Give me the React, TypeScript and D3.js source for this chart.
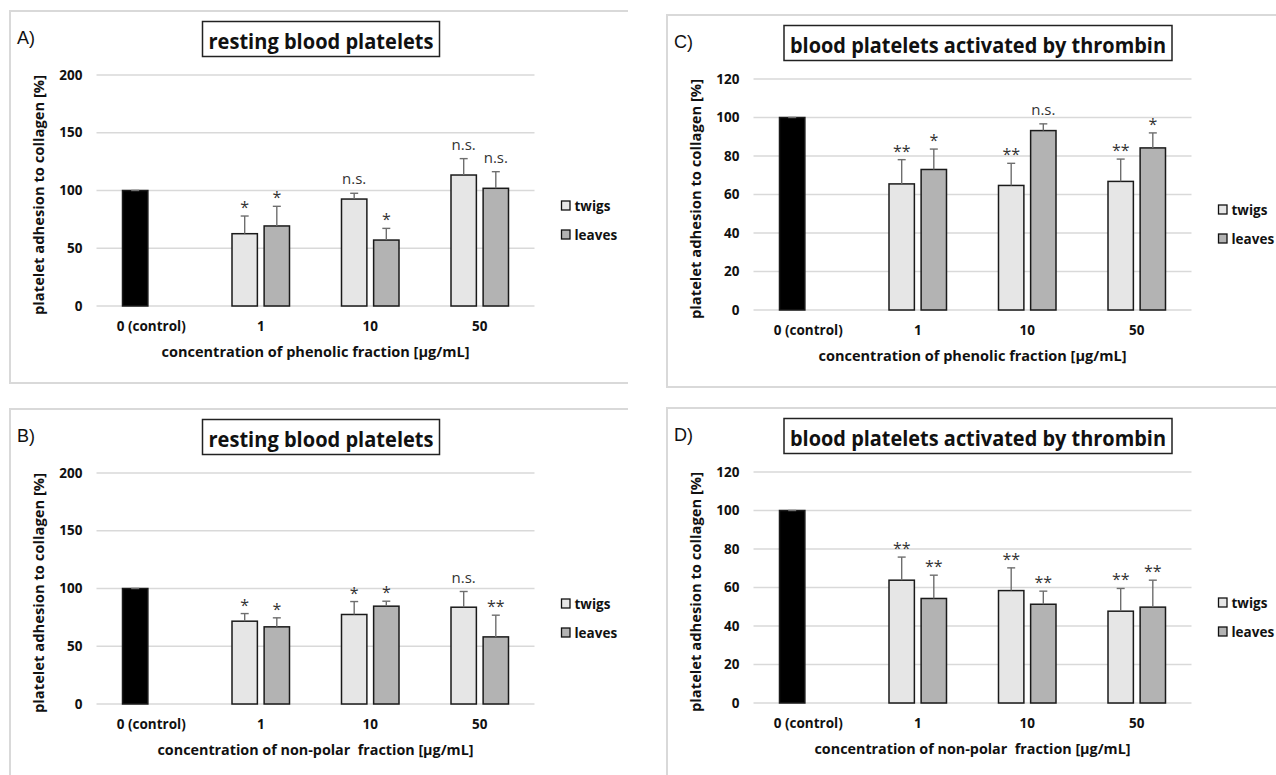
import React from 'react';
import * as d3 from 'd3';

// categories on the x axis and the two extract series
const CATEGORIES = ['0 (control)', '1', '10', '50'];
const SERIES = ['twigs', 'leaves'];

// A) resting platelets, phenolic fraction
const A_TWIGS = [100, 62.6, 92.6, 113.4];
const A_TWIGS_SD = [0, 15.3, 5, 14.2];
const A_LEAVES = [null, 69.3, 57.1, 101.9];
const A_LEAVES_SD = [null, 17, 10.1, 14.4];
const A_SIG_TWIGS = ['', '*', 'n.s.', 'n.s.'];
const A_SIG_LEAVES = ['', '*', '*', 'n.s.'];

// B) resting platelets, non-polar fraction
const B_TWIGS = [100, 71.7, 77.5, 83.8];
const B_TWIGS_SD = [0, 6.6, 11.2, 13.6];
const B_LEAVES = [null, 66.8, 84.7, 58.1];
const B_LEAVES_SD = [null, 7.8, 4.3, 18.8];
const B_SIG_TWIGS = ['', '*', '*', 'n.s.'];
const B_SIG_LEAVES = ['', '*', '*', '**'];

// C) thrombin-activated platelets, phenolic fraction
const C_TWIGS = [100, 65.5, 64.7, 66.8];
const C_TWIGS_SD = [0, 12.6, 11.5, 11.6];
const C_LEAVES = [null, 73.0, 93.2, 84.2];
const C_LEAVES_SD = [null, 10.6, 3.5, 7.8];
const C_SIG_TWIGS = ['', '**', '**', '**'];
const C_SIG_LEAVES = ['', '*', 'n.s.', '*'];

// D) thrombin-activated platelets, non-polar fraction
const D_TWIGS = [100, 63.8, 58.4, 47.7];
const D_TWIGS_SD = [0, 12, 11.8, 11.8];
const D_LEAVES = [null, 54.3, 51.3, 49.8];
const D_LEAVES_SD = [null, 12.1, 6.8, 14];
const D_SIG_TWIGS = ['', '**', '**', '**'];
const D_SIG_LEAVES = ['', '**', '**', '**'];

const TICKS_RESTING = [0, 50, 100, 150, 200];
const TICKS_THROMBIN = [0, 20, 40, 60, 80, 100, 120];

const TITLE_RESTING = 'resting blood platelets';
const TITLE_THROMBIN = 'blood platelets activated by thrombin';
const XTITLE_PHENOLIC = 'concentration of phenolic fraction [\u00b5g/mL]';
const XTITLE_NONPOLAR = 'concentration of non-polar  fraction [\u00b5g/mL]';
const YTITLE = 'platelet adhesion to collagen [%]';

const FONT = "'Open Sans', 'Noto Sans', sans-serif";
const COLORS = {
    frame: '#d9d9d9',
    grid: '#d9d9d9',
    control: '#000000',
    twigs: '#e6e6e6',
    leaves: '#b3b3b3',
    barStroke: '#1a1a1a',
    err: '#6e6e6e',
    text: '#111111',
    sig: '#333333',
};

const PANELS = [
    {
        label: 'A)', ox: 10, oy: 11, title: TITLE_RESTING, titleLen: 225, xTitle: XTITLE_PHENOLIC, xTitleLen: 308,
        ticks: TICKS_RESTING, twigs: A_TWIGS, twigsSd: A_TWIGS_SD, leaves: A_LEAVES, leavesSd: A_LEAVES_SD,
        sigTwigs: A_SIG_TWIGS, sigLeaves: A_SIG_LEAVES,
    },
    {
        label: 'B)', ox: 10, oy: 409, title: TITLE_RESTING, titleLen: 225, xTitle: XTITLE_NONPOLAR, xTitleLen: 316,
        ticks: TICKS_RESTING, twigs: B_TWIGS, twigsSd: B_TWIGS_SD, leaves: B_LEAVES, leavesSd: B_LEAVES_SD,
        sigTwigs: B_SIG_TWIGS, sigLeaves: B_SIG_LEAVES,
    },
    {
        label: 'C)', ox: 667, oy: 15, title: TITLE_THROMBIN, titleLen: 376, xTitle: XTITLE_PHENOLIC, xTitleLen: 308,
        ticks: TICKS_THROMBIN, twigs: C_TWIGS, twigsSd: C_TWIGS_SD, leaves: C_LEAVES, leavesSd: C_LEAVES_SD,
        sigTwigs: C_SIG_TWIGS, sigLeaves: C_SIG_LEAVES,
    },
    {
        label: 'D)', ox: 667, oy: 408, title: TITLE_THROMBIN, titleLen: 376, xTitle: XTITLE_NONPOLAR, xTitleLen: 316,
        ticks: TICKS_THROMBIN, twigs: D_TWIGS, twigsSd: D_TWIGS_SD, leaves: D_LEAVES, leavesSd: D_LEAVES_SD,
        sigTwigs: D_SIG_TWIGS, sigLeaves: D_SIG_LEAVES,
    },
];

function Panel({ p }: { p: any }) {
    const { ox, oy } = p;
    const x0 = ox + 86.5;
    const x1 = ox + 524.5;
    const yTop = oy + 64;
    const yBot = oy + 295;

    const x = d3.scaleBand<string>().domain(CATEGORIES).range([x0, x1]);
    const bw = x.bandwidth();
    const xs = d3.scaleBand<string>().domain(SERIES)
        .range([bw / 2 - 28.75, bw / 2 + 28.75]).paddingInner(0.21);
    const y = d3.scaleLinear().domain([0, d3.max(p.ticks as number[])!]).range([yBot, yTop]);

    const bars: any[] = [];
    SERIES.forEach((s) => {
        const vals = s === 'twigs' ? p.twigs : p.leaves;
        const sds = s === 'twigs' ? p.twigsSd : p.leavesSd;
        const sigs = s === 'twigs' ? p.sigTwigs : p.sigLeaves;
        CATEGORIES.forEach((c, i) => {
            if (vals[i] == null) return;
            // control value sits in the twigs slot, drawn black
            const fill = i === 0 ? COLORS.control : (s === 'twigs' ? COLORS.twigs : COLORS.leaves);
            bars.push({ key: s + c, xPos: x(c)! + xs(s)!, v: vals[i], sd: sds[i], sig: sigs[i], fill });
        });
    });
    const w = xs.bandwidth();
    const plotMid = (x0 + x1) / 2;
    const boxW = p.titleLen + 12;
    const boxX = ox + 311 - boxW / 2;

    return (
        <g>
            {/* panel frame (right edge cut off in the source figure) */}
            <path d={`M${ox + 618},${oy} H${ox} V${oy + 372} H${ox + 618}`}
                fill="none" stroke={COLORS.frame} strokeWidth={2} />
            <text x={ox + 7} y={oy + 33} fontFamily="'Liberation Sans', Arial, sans-serif"
                fontSize={18} fill={COLORS.text}>{p.label}</text>

            {/* title box */}
            <rect x={boxX} y={oy + 10.5} width={boxW} height={35}
                fill="#fff" stroke="#222" strokeWidth={1.5} />
            <text x={ox + 311} y={oy + 37.5} textAnchor="middle" fontFamily={FONT} fontWeight="bold"
                fontSize={21} fill="#111" textLength={p.titleLen} lengthAdjust="spacingAndGlyphs">{p.title}</text>

            {/* gridlines + y ticks */}
            {(p.ticks as number[]).map((t) => (
                <g key={t}>
                    <line x1={x0} x2={x1} y1={y(t)} y2={y(t)} stroke={COLORS.grid} strokeWidth={1.5} />
                    <text x={ox + 72.5} y={y(t)} dy="0.35em" textAnchor="end" fontFamily={FONT}
                        fontWeight="bold" fontSize={13.5} fill={COLORS.text}>{t}</text>
                </g>
            ))}

            {/* bars */}
            {bars.map((b) => (
                <rect key={b.key} x={b.xPos} y={y(b.v)} width={w} height={y(0) - y(b.v)}
                    fill={b.fill} stroke={COLORS.barStroke} strokeWidth={1.5} />
            ))}

            {/* error bars (upper only) and significance marks */}
            {bars.map((b) => {
                const cx = b.xPos + w / 2;
                const top = y(b.v + b.sd);
                const isNs = b.sig === 'n.s.';
                return (
                    <g key={'e' + b.key}>
                        {b.sd > 0 && (
                            <line x1={cx} x2={cx} y1={y(b.v)} y2={top} stroke={COLORS.err} strokeWidth={1.4} />
                        )}
                        <line x1={cx - 4} x2={cx + 4} y1={top} y2={top} stroke={COLORS.err} strokeWidth={1.4} />
                        {b.sig && (
                            <text x={cx} y={top - (isNs ? 9 : 3)} textAnchor="middle" fontFamily={FONT}
                                fontSize={isNs ? 15 : 16} fill={COLORS.sig}>{b.sig}</text>
                        )}
                    </g>
                );
            })}

            {/* x tick labels */}
            {CATEGORIES.map((c) => (
                <text key={c} x={x(c)! + bw / 2} y={oy + 320} textAnchor="middle" fontFamily={FONT}
                    fontWeight="bold" fontSize={13.5} fill={COLORS.text}>{c}</text>
            ))}

            {/* axis titles */}
            <text x={plotMid} y={oy + 346} textAnchor="middle" fontFamily={FONT} fontWeight="bold"
                fontSize={14} fill={COLORS.text} textLength={p.xTitleLen} lengthAdjust="spacingAndGlyphs"
                style={{ whiteSpace: 'pre' }}>{p.xTitle}</text>
            <text transform={`translate(${ox + 34},${oy + 184}) rotate(-90)`} textAnchor="middle"
                fontFamily={FONT} fontWeight="bold" fontSize={14} fill={COLORS.text}
                textLength={240} lengthAdjust="spacingAndGlyphs">{YTITLE}</text>

            {/* legend */}
            {SERIES.map((s, i) => (
                <g key={s}>
                    <rect x={x1 + 27} y={oy + 190 + i * 29} width={8.5} height={9}
                        fill={s === 'twigs' ? COLORS.twigs : COLORS.leaves} stroke="#111" strokeWidth={1.3} />
                    <text x={x1 + 40} y={oy + 199.5 + i * 29} fontFamily={FONT} fontWeight="bold"
                        fontSize={13.5} fill={COLORS.text}>{s}</text>
                </g>
            ))}
        </g>
    );
}

export default function App() {
    return (
        <svg width={1276} height={775} style={{ position: 'absolute', left: 0, top: 0, background: '#fff' }}>
            <rect width={1276} height={775} fill="#fff" />
            {PANELS.map((p) => <Panel key={p.label} p={p} />)}
        </svg>
    );
}
